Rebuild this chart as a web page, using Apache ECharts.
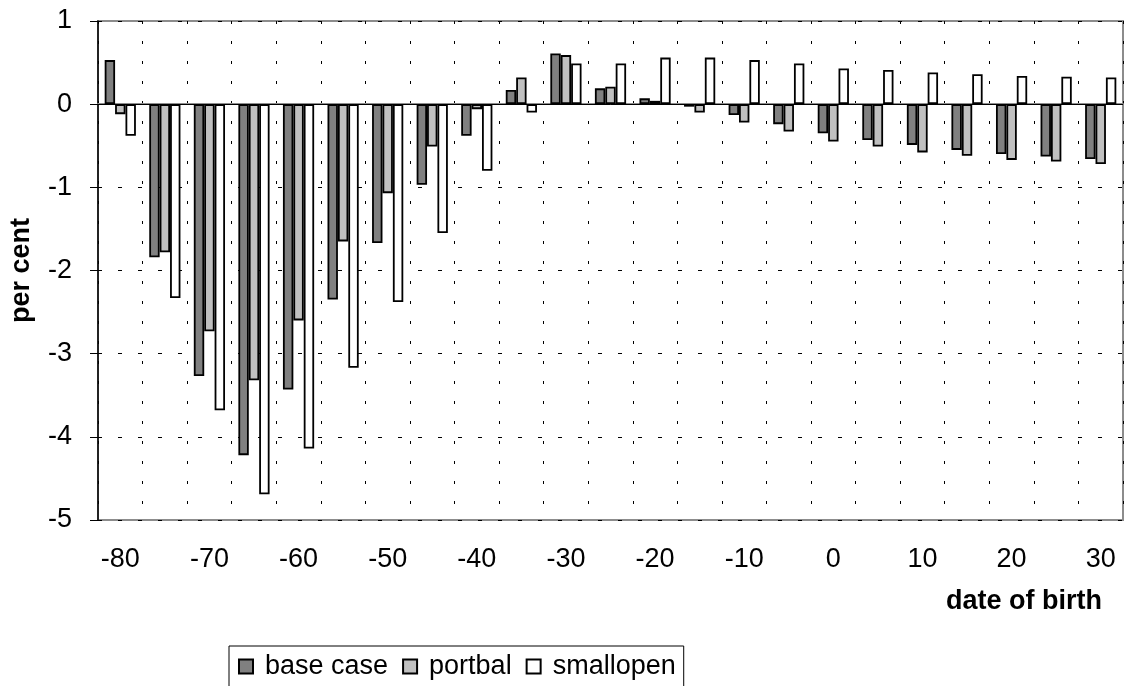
<!DOCTYPE html>
<html><head><meta charset="utf-8">
<script src="https://cdn.jsdelivr.net/npm/echarts@6/dist/echarts.min.js"></script>
<style>html,body{margin:0;padding:0;background:#fff}#c{width:1131px;height:686px}</style>
</head><body><div id="c"></div>
<script>
const categories = ['-80','-75','-70','-65','-60','-55','-50','-45','-40','-35','-30','-25','-20','-15','-10','-5','0','5','10','15','20','25','30'];
const baseCase = [0.53,-1.84,-3.27,-4.22,-3.43,-2.35,-1.67,-0.97,-0.38,0.17,0.61,0.19,0.07,-0.03,-0.13,-0.24,-0.35,-0.43,-0.49,-0.55,-0.60,-0.63,-0.66];
const portbal = [-0.12,-1.78,-2.73,-3.32,-2.60,-1.65,-1.07,-0.51,-0.06,0.32,0.59,0.21,0.04,-0.10,-0.22,-0.33,-0.45,-0.51,-0.58,-0.62,-0.67,-0.69,-0.72];
const smallopen = [-0.38,-2.33,-3.68,-4.69,-4.14,-3.17,-2.38,-1.55,-0.80,-0.10,0.49,0.49,0.56,0.56,0.53,0.49,0.43,0.41,0.38,0.36,0.34,0.33,0.32];
const seriesNames = ['base case','portbal','smallopen'];
const colors = ['#808080','#c0c0c0','#ffffff'];
const xAxisTitle = 'date of birth';
const yAxisTitle = 'per cent';

const chart = echarts.init(document.getElementById('c'));
const font = 'Liberation Sans, Arial, sans-serif';
const mk = (name, data, color, extra) => Object.assign({
  name, type: 'bar', data,
  barGap: '0%', barCategoryGap: '30%',
  itemStyle: { color, borderColor: '#000', borderWidth: 1.8 },
  animation: false
}, extra || {});
chart.setOption({
  animation: false,
  textStyle: { fontFamily: font },
  grid: { left: 96, right: 8, top: 21, bottom: 166, show: true, borderColor: '#8c8c8c', borderWidth: 2 },
  legend: {
    left: 229, top: 646,
    data: seriesNames,
    icon: 'rect', itemWidth: 14, itemHeight: 14, itemGap: 14,
    borderColor: '#000', borderWidth: 1, padding: [7, 8, 30, 9],
    textStyle: { fontSize: 27, color: '#000', fontFamily: font, padding: [0, 0, 0, 7] }
  },
  graphic: [{
    type: 'text', right: 1131 - 1102, top: 588,
    style: { text: xAxisTitle, font: 'bold 27px ' + font, fill: '#000' }
  }],
  xAxis: {
    type: 'category', data: categories,
    axisLine: { show: true, lineStyle: { color: '#8c8c8c', width: 2 } },
    axisTick: { show: false },
    axisLabel: { interval: 1, fontSize: 27, color: '#000', margin: 26 },
    splitLine: { show: true, interval: 0, lineStyle: { color: '#000', type: [3, 17], width: 1 } }
  },
  yAxis: {
    type: 'value', min: -5, max: 1, interval: 1,
    name: yAxisTitle, nameLocation: 'middle', nameGap: 63, nameRotate: 90,
    nameTextStyle: { fontSize: 27, fontWeight: 'bold', color: '#000' },
    axisLine: { show: true, lineStyle: { color: '#000', width: 1.5 } },
    axisTick: { show: true, length: 8, lineStyle: { color: '#000' } },
    axisLabel: { fontSize: 27, color: '#000', margin: 26 },
    splitLine: { show: true, lineStyle: { color: '#000', type: [4, 16], width: 1 } }
  },
  series: [
    mk(seriesNames[0], baseCase, colors[0], {
      markLine: { silent: true, symbol: 'none', label: { show: false },
        lineStyle: { color: '#000', type: 'solid', width: 1 }, data: [{ yAxis: 0 }] }
    }),
    mk(seriesNames[1], portbal, colors[1]),
    mk(seriesNames[2], smallopen, colors[2])
  ]
});
</script></body></html>
